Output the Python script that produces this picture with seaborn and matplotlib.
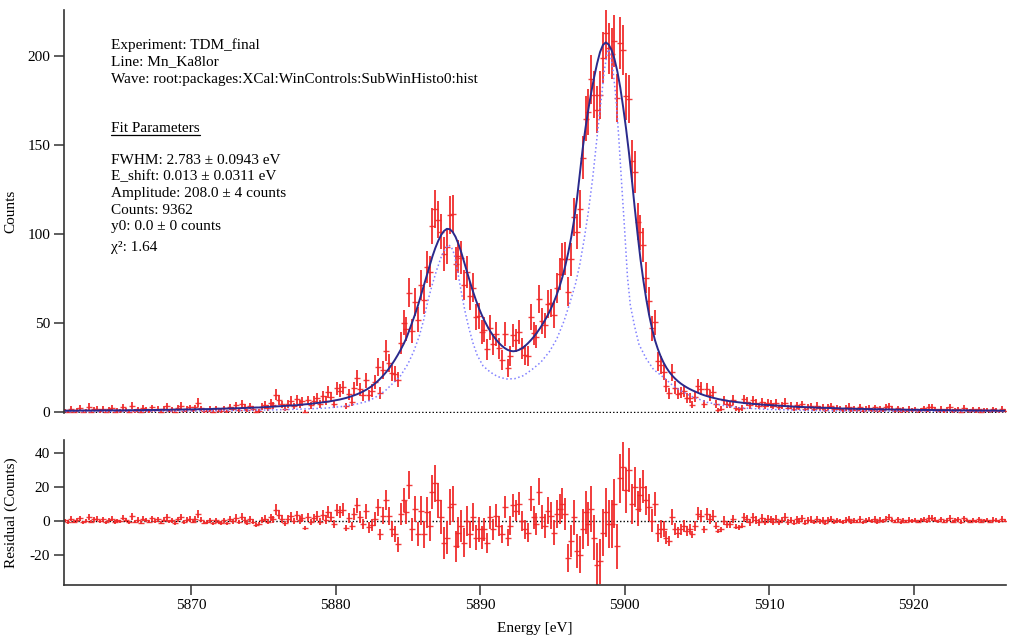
import numpy as np
import matplotlib
matplotlib.use("Agg")
import matplotlib.pyplot as plt
import seaborn as sns

# ---------------- data ----------------
E_START = 5861.3      # first bin centre [eV]
BIN = 0.2             # bin width [eV]

# fitted model per bin (counts)
fit_a = [0.8,0.8,0.8,0.8,0.8,0.9,0.9,0.9,0.9,0.9,0.9,0.9,1.0,1.0,1.0,1.0,1.0,1.0,1.0]
fit_b = [1.0,1.0,1.0,1.1,1.1,1.1,1.1,1.1,1.1,1.2,1.2,1.2,1.2,1.2,1.3,1.3,1.3,1.3,1.4,1.4,1.4,1.4,1.5,1.5,1.5]
fit_c = [1.5,1.6,1.6,1.6,1.7,1.7,1.7,1.8,1.8,1.9,1.9,2.0,2.0,2.1,2.1,2.2,2.2,2.3,2.3,2.4,2.4,2.5,2.6,2.6,2.7]
fit_d = [2.8,2.9,3.0,3.1,3.2,3.3,3.4,3.5,3.6,3.7,3.8,3.9,4.1,4.2,4.4,4.5,4.7,4.9,5.1,5.3,5.5,5.7,5.9,6.2,6.5]
fit_e = [6.8,7.1,7.5,7.9,8.4,8.9,9.5,10.1,10.8,11.6,12.5,13.5,14.6,15.9,17.3,18.9,20.6,22.5,24.6,26.9,29.4,32.1,35.0,38.2,41.6]
fit_f = [46,50.5,55,60,65.5,71,76.5,82,87.5,92.2,96.2,99.5,101.8,103.0,102.8,101.3,98.5,94.5,89.7,84.3,78.7,73.2,68.0,63.2,58.8]
fit_g = [54.9,51.4,48.3,45.5,43.0,40.8,38.9,37.3,36.0,35.0,34.4,34.2,34.4,35.0,35.9,37.1,38.6,40.3,42.2,44.3,46.6,49.1,51.8,54.8,58.1]
fit_h = [61.8,65.9,70.6,76.0,82.3,89.6,98.0,107.7,119.5,134,148,160,170.5,180,188.5,196.0,202.3,206.3,207.8,206.6,203.5,198.5,191.5,182.5,171.5]
fit_i = [159.5,146,131,115,100,86,74,63.5,54.5,47,40.5,35.5,31.3,27.8,24.9,22.5,20.5,18.8,17.3,16.0,14.9,13.9,13.0,12.2,11.5]
fit_j = [10.8,10.1,9.5,9.0,8.5,8.1,7.7,7.3,7.0,6.7,6.4,6.1,5.9,5.7,5.5,5.3,5.1,4.9,4.8,4.6,4.5,4.4,4.2,4.1,4.0]
fit_k = [3.9,3.8,3.7,3.6,3.5,3.4,3.3,3.2,3.1,3.0,2.9,2.9,2.8,2.7,2.7,2.6,2.5,2.5,2.4,2.4,2.3,2.3,2.2,2.2,2.1]
fit_l = [2.0,2.0,1.9,1.9,1.9,1.8,1.8,1.8,1.7,1.7,1.7,1.6,1.6,1.6,1.5,1.5,1.5,1.5,1.4,1.4,1.4,1.4,1.3,1.3,1.3]
fit_m = [1.3,1.3,1.2,1.2,1.2,1.2,1.2,1.1,1.1,1.1,1.1,1.1,1.1,1.0,1.0,1.0,1.0,1.0,1.0,1.0,0.9,0.9,0.9,0.9,0.9]
fit_n = [0.9,0.9,0.9,0.9,0.8,0.8,0.8]

# residuals per bin (data - fit, counts)
res_a = [0.2,-0.8,1.2,-0.5,0.3,1.5,-0.9,0.1,2.2,-0.6,0.8,1.1,-0.4,0.9,-1.0,0.5,1.3,-0.7,0.2]
res_b = [-0.3,1.8,0.4,-0.9,2.5,-0.5,0.7,-1.1,1.2,0.3,-0.6,1.4,-0.2,0.8,-1.2,0.6,1.9,-0.4,0.2,-1.3,0.9,2.3,-0.7,0.5,1.1]
res_c = [-0.5,1.0,3.8,0.6,-1.2,-0.8,0.3,-1.5,0.4,-1.0,-1.3,0.2,-1.6,0.8,-0.4,1.7,-0.9,2.4,0.5,-1.4,0.9,-0.6,-2.7,-1.8,0.4]
res_d = [1.2,-0.5,2.0,0.8,6.5,3.5,1.0,-1.5,1.0,2.6,-0.3,3.2,0.4,1.8,-4.5,2.2,-0.8,1.5,2.8,-0.6,3.4,0.7,5.2,2.1,-1.9]
res_e = [6.5,5.0,6.5,-4.5,1.5,-3.0,4.0,9.0,2.0,-2.0,5.5,-4.0,-2.5,1.0,8.0,-8.0,3.0,12.0,3.0,-5.0,-8.0,-14.0,4.0,12.0,5.0]
res_f = [21.0,-5.0,7.0,-8.0,6.0,-8.0,5.0,-3.0,17.0,22.0,12.0,2.0,-13.0,-10.0,8.0,10.0,-15.0,-7.0,-3.0,-13.0,0.0,-8.0,2.0,-10.0,-5.0]
res_g = [-10,-5,-13,2,-5,3,-3,-8,8,-10,-3,9,6,10,0,-5,-7,13,2,-2,17,2,-3,6,3]
res_h = [-7,4,7,10,4,-22,-12,2,-18,-20,-5,5,-2,7,-10,-26,-24,-7,5,-2,-2,10,-15,25,32]
res_i = [18,30,10,20,7,15,20,12,8,0,10,-7,-5,-5,-10,-12,2,-5,-7,-5,-3,-6,-5,-8,-3]
res_j = [4,3,-5,4,1,3,-3,-6,-5,0,-2,-2,1,-3.5,-4,-3,2,1,-1,2,0.5,-1,1.5,-0.5,1]
res_k = [0.8,-0.5,1.2,-1.0,0.3,2.0,-0.8,0.5,-1.2,0.9,-0.3,1.5,-1.1,0.2,0.7,-0.9,1.1,-0.4,0.6,-1.3,0.4,1.0,-0.7,0.3,-0.2]
res_l = [-0.6,0.4,1.2,-0.8,0.3,-0.5,0.9,-1.0,0.2,0.6,-0.4,1.0,-0.7,0.5,-0.3,1.3,2.0,0.4,-0.6,0.8,-0.9,0.3,-0.5,0.6,-0.2]
res_m = [0.5,-0.6,0.2,1.0,-0.4,1.8,1.5,0.7,-0.3,0.9,-0.6,0.4,1.6,-0.5,0.3,0.8,-0.7,1.4,0.2,-0.5,0.6,-0.3,0.9,-0.6,0.2]
res_n = [0.4,-0.5,0.7,0.3,-0.4,1.2,0.1]

# intrinsic (unbroadened) line shape, dotted curve
intr_e = [5861.3,5866,5870,5873,5876,5878,5879.4,5880.5,5881.5,5882.3,5883.0,5883.5,5884.0,5884.5,
          5885.0,5885.4,5885.8,5886.1,5886.4,5886.7,5887.0,5887.3,5887.6,5887.8,5888.0,5888.2,5888.4,
          5888.6,5888.8,5889.0,5889.2,5889.5,5889.8,5890.2,5890.7,5891.2,5891.8,5892.4,5893.0,5893.6,
          5894.2,5894.8,5895.3,5895.8,5896.2,5896.6,5896.9,5897.2,5897.5,5897.8,5898.1,5898.4,5898.6,
          5898.8,5898.9,5899.0,5899.2,5899.4,5899.6,5899.8,5900.0,5900.2,5900.4,5900.7,5901.0,5901.5,
          5902.0,5902.7,5903.4,5904.0,5904.6,5905.7,5907,5908,5910,5913,5917,5921,5926.3]
intr_v = [0.3,0.4,0.6,0.9,1.3,1.8,2.3,3.2,4.6,6.3,9.5,12.5,16.5,20.5,
          27,34,43,52,63,72,80,87,92,94,93,89,81,
          72,63,55,48,39,32,26,22.5,20,18.6,18.8,20.5,24,
          28,34,41,51,61,72,83,97,113,132,155,177,192,
          202,204,202,192,177,154,128,103,76,60,48,38,30,
          24,19.5,14.5,11.5,9,5.5,3.5,2.4,1.5,0.9,0.6,0.4,0.3]

info_lines = ["Experiment: TDM_final",
              "Line: Mn_Ka8lor",
              "Wave: root:packages:XCal:WinControls:SubWinHisto0:hist"]
fit_header = "Fit Parameters"
fit_lines = ["FWHM: 2.783 \u00b1 0.0943 eV",
             "E_shift: 0.013 \u00b1 0.0311 eV",
             "Amplitude: 208.0 \u00b1 4 counts",
             "Counts: 9362",
             "y0: 0.0 \u00b1 0 counts"]
chi_line = "\u03c7\u00b2: 1.64"

main_yticks = [0, 50, 100, 150, 200]
res_yticks = [-20, 0, 20, 40]
x_ticks = [5870, 5880, 5890, 5900, 5910, 5920]

# ---------------- derived ----------------
fit = np.array(fit_a + fit_b + fit_c + fit_d + fit_e + fit_f + fit_g + fit_h +
               fit_i + fit_j + fit_k + fit_l + fit_m + fit_n, dtype=float)
resid = np.array(res_a + res_b + res_c + res_d + res_e + res_f + res_g + res_h +
                 res_i + res_j + res_k + res_l + res_m + res_n, dtype=float)
n = len(fit)
energy = E_START + BIN * np.arange(n)
counts = np.clip(fit + resid, 0, None)
err = np.sqrt(np.maximum(counts, 1.0))
resid = counts - fit

# ---------------- style ----------------
sns.set_theme(style="ticks")
plt.rcParams["font.family"] = ["Liberation Serif", "DejaVu Serif"]
plt.rcParams["axes.unicode_minus"] = False

RED = "#f02828"
NAVY = "#2a2a8c"
LIGHT = "#8080ff"
SPINE = "#333333"

W, H = 1024, 636
fig = plt.figure(figsize=(W / 100, H / 100), dpi=100)
ax = fig.add_axes([64 / W, 1 - 413 / H, (1006 - 64) / W, (413 - 10) / H])
axr = fig.add_axes([64 / W, 1 - 585 / H, (1006 - 64) / W, (585 - 440) / H])

# main panel
ax.axhline(0, color="black", ls=(0, (1, 1.5)), lw=1.0, zorder=1)
ax.errorbar(energy, counts, yerr=err, fmt="_", color=RED, ms=4, mew=1.0,
            elinewidth=1.4, capsize=0, alpha=0.9, zorder=2)
sns.lineplot(x=intr_e, y=intr_v, ax=ax, color=LIGHT, lw=1.1, linestyle=":",
             estimator=None, sort=False, zorder=3)
sns.lineplot(x=energy, y=fit, ax=ax, color=NAVY, lw=1.4,
             estimator=None, sort=False, zorder=4)

ax.set_xlim(5861.2, 5926.4)
ax.set_ylim(-0.5, 226)
ax.set_yticks(main_yticks)
for s in ["top", "right", "bottom"]:
    ax.spines[s].set_visible(False)
ax.spines["left"].set_color(SPINE)
ax.spines["left"].set_linewidth(1.2)
ax.tick_params(axis="x", bottom=False, labelbottom=False)
ax.tick_params(axis="y", direction="out", length=7, width=1.1, color=SPINE,
               labelsize=11, labelcolor="black", pad=3)
ax.set_xlabel("")
ax.set_ylabel("Counts", fontsize=11, color="black")
ax.yaxis.set_label_coords(-0.049, 0.5)

# residual panel
axr.axhline(0, color="black", ls=(0, (1, 1.5)), lw=1.0, zorder=1)
axr.errorbar(energy, resid, yerr=err, fmt="_", color=RED, ms=4, mew=1.0,
             elinewidth=1.4, capsize=0, alpha=0.9, zorder=2)
axr.set_xlim(5861.2, 5926.4)
axr.set_ylim(-38, 47.7)
axr.set_yticks(res_yticks)
axr.set_xticks(x_ticks)
for s in ["top", "right"]:
    axr.spines[s].set_visible(False)
for s in ["left", "bottom"]:
    axr.spines[s].set_color(SPINE)
    axr.spines[s].set_linewidth(1.2)
axr.tick_params(direction="out", length=7, width=1.1, color=SPINE,
                labelsize=11, labelcolor="black", pad=3)
axr.set_ylabel("Residual (Counts)", fontsize=11, color="black")
axr.yaxis.set_label_coords(-0.049, 0.5)
axr.set_xlabel("Energy [eV]", fontsize=11, color="black")
axr.xaxis.set_label_coords(0.5, -0.255)

# annotation text block
tx = 111 / W
ys = [45, 62, 79]
for t, y in zip(info_lines, ys):
    fig.text(tx, 1 - y / H, t, fontsize=11, va="center", ha="left", color="black")
hdr = fig.text(tx, 1 - 128 / H, fit_header, fontsize=11, va="center", ha="left", color="black")
for i, t in enumerate(fit_lines):
    fig.text(tx, 1 - (160.5 + 16.6 * i) / H, t, fontsize=11, va="center", ha="left", color="black")
fig.text(tx, 1 - 247 / H, chi_line, fontsize=11, va="center", ha="left", color="black")

fig.canvas.draw()
bb = hdr.get_window_extent(renderer=fig.canvas.get_renderer())
uy = 1 - 134.5 / H
fig.add_artist(plt.Line2D([bb.x0 / W, bb.x1 / W], [uy, uy], color="black", lw=0.9,
                          transform=fig.transFigure))

fig.savefig("out.png", dpi=100)
